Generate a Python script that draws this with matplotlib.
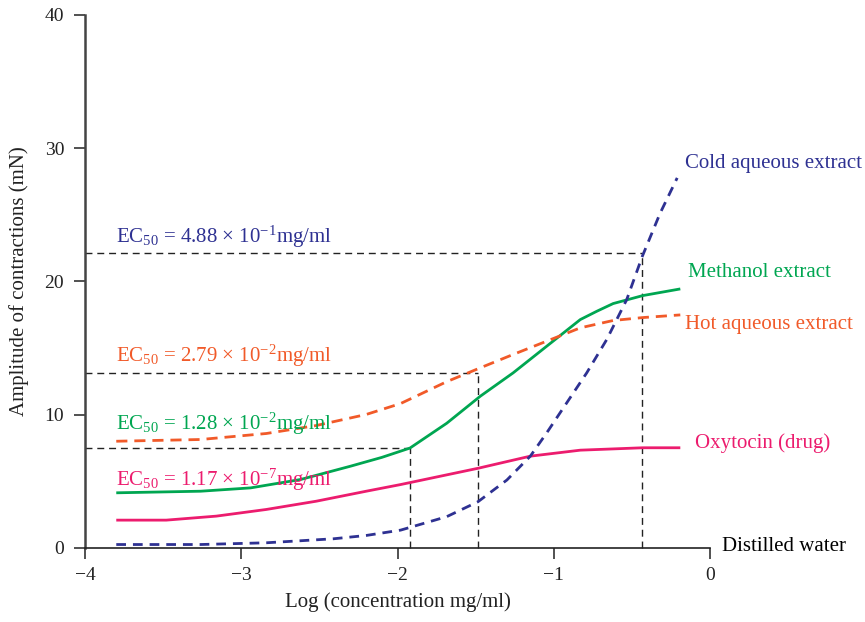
import matplotlib
matplotlib.use("Agg")
import matplotlib.pyplot as plt

plt.rcParams['font.family'] = ['Liberation Serif', 'DejaVu Serif']
plt.rcParams['mathtext.fontset'] = 'custom'
plt.rcParams['mathtext.rm'] = 'Liberation Serif'
plt.rcParams['mathtext.it'] = 'Liberation Serif:italic'
plt.rcParams['mathtext.bf'] = 'Liberation Serif:bold'

# values
methanol_x = [-3.8, -3.26, -2.94, -2.62, -2.30, -2.10, -1.92, -1.685, -1.47, -1.26, -1.045, -0.83, -0.725, -0.62, -0.43, -0.19]
methanol = [4.14, 4.26, 4.51, 5.14, 6.14, 6.8, 7.5, 9.36, 11.39, 13.14, 15.14, 17.14, 17.76, 18.34, 18.94, 19.44]

hot_x = [-3.8, -3.26, -2.84, -2.52, -2.2, -1.98, -1.685, -1.47, -1.26, -1.045, -0.83, -0.62, -0.43, -0.19]
hot_aqueous = [8.01, 8.14, 8.59, 9.19, 10.02, 10.84, 12.48, 13.52, 14.52, 15.52, 16.52, 17.07, 17.29, 17.49]

oxy_x = [-3.8, -3.48, -3.16, -2.84, -2.52, -2.2, -1.98, -1.485, -1.15, -0.83, -0.43, -0.19]
oxytocin = [2.09, 2.09, 2.39, 2.89, 3.51, 4.26, 4.76, 5.98, 6.89, 7.34, 7.52, 7.52]

cold_x = [-3.8, -3.26, -2.84, -2.41, -2.2, -1.98, -1.685, -1.485, -1.30, -1.15, -1.045,
          -0.917, -0.789, -0.661, -0.533, -0.433, -0.32, -0.21]
cold_aqueous = [0.26, 0.26, 0.39, 0.69, 0.94, 1.34, 2.35, 3.47, 5.10, 6.89, 8.64,
                10.89, 13.14, 15.64, 18.64, 21.89, 25.1, 27.77]

# EC50 guide lines: (x of the vertical line, y of the horizontal line)
ec50_x = [-1.92, -1.485, -0.435]
ec50_y = [7.5, 13.1, 22.15]

ec50_labels = [r'EC$_{50}$ = 4.88 × 10$^{-1}$mg/ml',
               r'EC$_{50}$ = 2.79 × 10$^{-2}$mg/ml',
               r'EC$_{50}$ = 1.28 × 10$^{-2}$mg/ml',
               r'EC$_{50}$ = 1.17 × 10$^{-7}$mg/ml']
ec50_label_y = [22.9, 14.0, 8.85, 4.68]

curve_names = ['Cold aqueous extract', 'Methanol extract', 'Hot aqueous extract',
               'Oxytocin (drug)', 'Distilled water']
name_x = [-0.16, -0.143, -0.16, -0.096, 0.077]
name_y = [28.5, 20.3, 16.45, 7.48, -0.25]

navy = '#2E3192'
green = '#00A651'
red = '#F15A29'
pink = '#EC1C6E'
label_colors = [navy, red, green, pink]
name_colors = [navy, green, red, pink, 'black']

fs = 15

fig = plt.figure(figsize=(8.65, 6.22), dpi=100)
ax = fig.add_axes([0.0983, 0.119, 0.7225, 0.857])

# guide lines
for gx, gy in zip(ec50_x, ec50_y):
    ax.plot([-4, gx], [gy, gy], color='#222222', lw=1.0, ls=(0, (5, 3.5)), clip_on=False)
    ax.plot([gx, gx], [0, gy], color='#222222', lw=1.0, ls=(0, (5, 3.5)), clip_on=False)

ax.plot(oxy_x, oxytocin, color=pink, lw=2.0, solid_capstyle='butt', solid_joinstyle='round')
ax.plot(methanol_x, methanol, color=green, lw=2.0, solid_capstyle='butt', solid_joinstyle='round')
ax.plot(hot_x, hot_aqueous, color=red, lw=2.0, ls=(0, (4, 2.5)))
ax.plot(cold_x, cold_aqueous, color=navy, lw=2.0, ls=(0, (3.5, 2.5)))

for txt, ty, c in zip(ec50_labels, ec50_label_y, label_colors):
    ax.text(-3.8, ty, txt, color=c, fontsize=fs, va='baseline', ha='left')

for txt, tx, ty, c in zip(curve_names, name_x, name_y, name_colors):
    ax.text(tx, ty, txt, color=c, fontsize=fs, va='baseline', ha='left', clip_on=False)

ax.set_xlim(-4, 0)
ax.set_ylim(0, 40)
ax.set_xticks([-4, -3, -2, -1, 0])
ax.set_yticks([0, 10, 20, 30, 40])
ax.spines['top'].set_visible(False)
ax.spines['right'].set_visible(False)
ax.spines['left'].set_color('#444444')
ax.spines['left'].set_linewidth(1.8)
ax.spines['bottom'].set_color('#222222')
ax.spines['bottom'].set_linewidth(1.2)
ax.tick_params(axis='both', direction='out', length=8, width=1.2, color='#333333',
               labelsize=14, labelcolor='#222222')
ax.tick_params(axis='y', pad=7)
ax.tick_params(axis='x', pad=6)

ax.set_xlabel('Log (concentration mg/ml)', fontsize=fs, color='#222222', labelpad=6)
ax.set_ylabel('Amplitude of contractions (mN)', fontsize=fs, color='#222222', labelpad=11)

fig.savefig('out.png', dpi=100)
